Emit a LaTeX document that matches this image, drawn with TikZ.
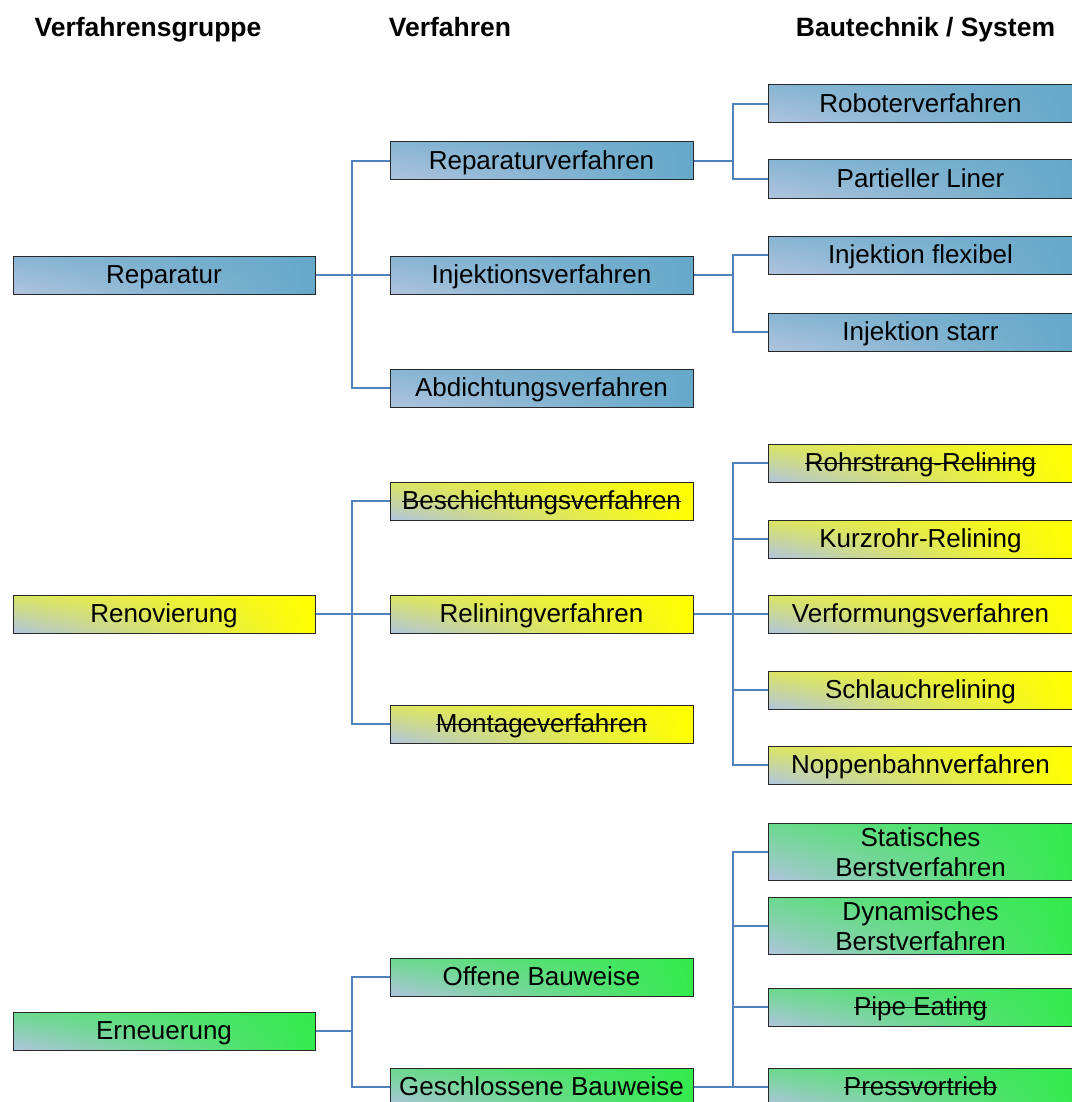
\documentclass[tikz,border=0pt]{standalone}
\usepackage{fontspec}
\setmainfont{Liberation Sans}
\definecolor{linkblue}{RGB}{79,129,189}
\definecolor{boxline}{RGB}{40,40,40}

% strike-through text
\newsavebox\strkbox
\newcommand\strk[1]{\sbox\strkbox{#1}\rlap{\usebox\strkbox}\rule[0.28em]{\wd\strkbox}{1.4pt}}

% functional shadings: light steel blue in the bottom-left, main colour elsewhere
\pgfdeclarefunctionalshading{blushade}{\pgfpointorigin}{\pgfpoint{100bp}{100bp}}{}{
 exch 25 sub 50 div dup 0 lt {pop 0} if dup 1 gt {pop 1} if
 1 exch sub exch
 25 sub 50 div dup 0 lt {pop 0} if dup 1 gt {pop 1} if
 0.55 mul 1 exch sub mul
 dup dup
 0.29 mul 0.40 add 3 1 roll
 0.11 mul 0.66 add exch
 0.08 mul 0.79 add
}
\pgfdeclarefunctionalshading{yelshade}{\pgfpointorigin}{\pgfpoint{100bp}{100bp}}{}{
 exch 25 sub 50 div dup 0 lt {pop 0} if dup 1 gt {pop 1} if
 1 exch sub exch
 25 sub 50 div dup 0 lt {pop 0} if dup 1 gt {pop 1} if
 0.55 mul 1 exch sub mul
 dup dup
 -0.31 mul 1.0 add 3 1 roll
 -0.23 mul 1.0 add exch
 0.87 mul 0.0 add
}
\pgfdeclarefunctionalshading{grnshade}{\pgfpointorigin}{\pgfpoint{100bp}{100bp}}{}{
 exch 25 sub 50 div dup 0 lt {pop 0} if dup 1 gt {pop 1} if
 1 exch sub exch
 25 sub 50 div dup 0 lt {pop 0} if dup 1 gt {pop 1} if
 0.55 mul 1 exch sub mul
 dup dup
 0.49 mul 0.20 add 3 1 roll
 -0.15 mul 0.92 add exch
 0.57 mul 0.30 add
}

\tikzset{
  box/.style={draw=boxline, line width=1pt, minimum height=38pt, inner sep=0pt,
    text height=19pt, text depth=2pt,
    font=\fontsize{26}{30}\selectfont},
  wideA/.style={minimum width=302pt},
  wideB/.style={minimum width=303pt},
  wideC/.style={minimum width=305pt},
  blu/.style={box, shading=blushade},
  yel/.style={box, shading=yelshade},
  grn/.style={box, shading=grnshade},
  twoline/.style={minimum height=57pt, text height={}, text depth={}, align=center},
  conn/.style={draw=linkblue, line width=1.5pt},
  hdr/.style={font=\fontsize{26.5}{30}\selectfont\bfseries, inner sep=0pt, anchor=base}
}

\begin{document}
\begin{tikzpicture}[x=1pt,y=-1pt]
\useasboundingbox (0,0) rectangle (1071,1102);

% headers
\node[hdr] (h1) at (148,37) {Verfahrensgruppe};
\node[hdr] (h2) at (450,37) {Verfahren};
\node[hdr] (h3) at (925.5,37) {Bautechnik / System};

% trunk x positions
\coordinate (t1) at (352,0);
\coordinate (t2) at (733,0);

% column 1
\node[blu,wideA] (rep) at (164,275) {Reparatur};
\node[yel,wideA] (ren) at (164,614) {Renovierung};
\node[grn,wideA] (ern) at (164,1031) {Erneuerung};

% column 2
\node[blu,wideB] (repv) at (541.5,161) {Reparaturverfahren};
\node[blu,wideB] (inj)  at (541.5,275) {Injektionsverfahren};
\node[blu,wideB] (abd)  at (541.5,388) {Abdichtungsverfahren};
\node[yel,wideB] (bes)  at (541.5,501) {\strk{Beschichtungsverfahren}};
\node[yel,wideB] (rel)  at (541.5,614) {Reliningverfahren};
\node[yel,wideB] (mon)  at (541.5,724) {\strk{Montageverfahren}};
\node[grn,wideB] (off)  at (541.5,977) {Offene Bauweise};
\node[grn,wideB] (ges)  at (541.5,1087) {Geschlossene Bauweise};

% column 3
\node[blu,wideC] (rob)  at (920.5,104) {Roboterverfahren};
\node[blu,wideC] (par)  at (920.5,179) {Partieller Liner};
\node[blu,wideC] (injf) at (920.5,255) {Injektion flexibel};
\node[blu,wideC] (injs) at (920.5,332) {Injektion starr};
\node[yel,wideC] (rohr) at (920.5,463) {\strk{Rohrstrang-Relining}};
\node[yel,wideC] (kurz) at (920.5,539) {Kurzrohr-Relining};
\node[yel,wideC] (verf) at (920.5,614) {Verformungsverfahren};
\node[yel,wideC] (schl) at (920.5,690) {Schlauchrelining};
\node[yel,wideC] (nopp) at (920.5,765) {Noppenbahnverfahren};
\node[grn,wideC,twoline] (stat) at (920.5,852) {Statisches\\Berstverfahren};
\node[grn,wideC,twoline] (dyn)  at (920.5,926) {Dynamisches\\Berstverfahren};
\node[grn,wideC] (pipe) at (920.5,1007) {\strk{Pipe Eating}};
\node[grn,wideC] (press) at (920.5,1087) {\strk{Pressvortrieb}};

% connectors column 1 -> 2
\foreach \p/\c in {rep/repv, rep/inj, rep/abd, ren/bes, ren/rel, ren/mon, ern/off, ern/ges}
  \draw[conn] (\p.east) -- (\p.east -| t1) |- (\c.west);

% connectors column 2 -> 3
\foreach \p/\c in {repv/rob, repv/par, inj/injf, inj/injs,
                   rel/rohr, rel/kurz, rel/verf, rel/schl, rel/nopp,
                   ges/stat, ges/dyn, ges/pipe, ges/press}
  \draw[conn] (\p.east) -- (\p.east -| t2) |- (\c.west);
\end{tikzpicture}
\end{document}
